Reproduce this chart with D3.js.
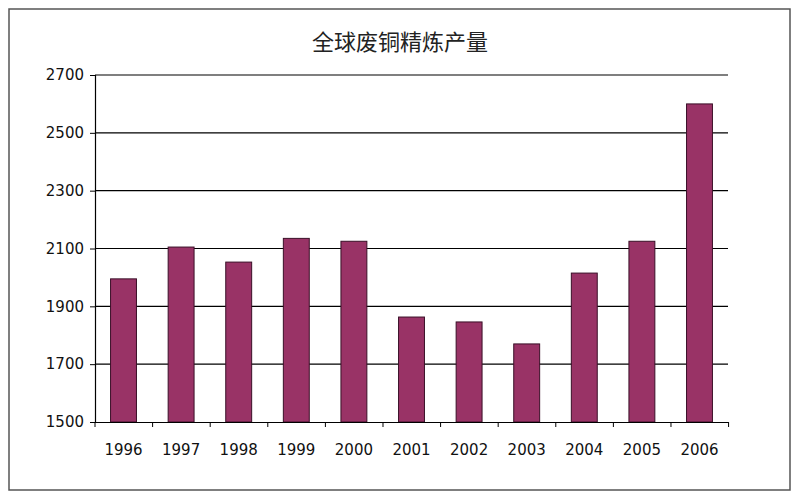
<!DOCTYPE html>
<html><head><meta charset="utf-8">
<script src="https://cdn.jsdelivr.net/npm/d3@7"></script>
<style>body{margin:0;background:#fff}</style>
</head><body>
<div id="chart"></div>
<script>
const width = 800, height = 500;
const years = ['1996','1997','1998','1999','2000','2001','2002','2003','2004','2005','2006'];
const output = [1995,2105,2053,2135,2125,1863,1846,1770,2015,2125,2600];
const yTicks = [1500,1700,1900,2100,2300,2500,2700];

const margin = {top: 75, right: 72, bottom: 78, left: 95};

const svg = d3.select('#chart').append('svg')
  .attr('width', width).attr('height', height);

//outer frame
svg.append('rect').attr('x', 9).attr('y', 9).attr('width', 781).attr('height', 481)
  .attr('fill', 'none').attr('stroke', '#555').attr('stroke-width', 1.5);

svg.append('text').attr('x', 400).attr('y', 50).attr('text-anchor', 'middle')
  .attr('font-family', 'Noto Sans CJK SC').attr('font-size', 22).attr('fill', '#222')
  .text('全球废铜精炼产量');

const x = d3.scaleBand().domain(years)
  .range([margin.left, width - margin.right]).paddingInner(0.55).paddingOuter(0.27);
const y = d3.scaleLinear().domain([1500, 2700])
  .range([height - margin.bottom, margin.top]);

//grid
svg.append('g').selectAll('line').data(yTicks.slice(1)).join('line')
  .attr('x1', margin.left).attr('x2', width - margin.right)
  .attr('y1', d => y(d)).attr('y2', d => y(d))
  .attr('stroke', '#000').attr('stroke-width', 1.2);

svg.append('g').selectAll('rect').data(output).join('rect')
  .attr('x', (d, i) => x(years[i])).attr('width', x.bandwidth())
  .attr('y', d => y(d)).attr('height', d => y(1500) - y(d))
  .attr('fill', '#993366').attr('stroke', '#3a1028').attr('stroke-width', 1);

const yAxis = svg.append('g').attr('transform', 'translate(' + margin.left + ',0)')
  .call(d3.axisLeft(y).tickValues(yTicks).tickFormat(d3.format('d')).tickSize(5).tickPadding(6));
const xAxis = svg.append('g').attr('transform', 'translate(0,' + y(1500) + ')')
  .call(d3.axisBottom(x).tickSize(0).tickPadding(22));
// tick marks between categories
svg.append('g').selectAll('line').data(d3.range(years.length + 1)).join('line')
  .attr('x1', i => margin.left + i * x.step()).attr('x2', i => margin.left + i * x.step())
  .attr('y1', y(1500)).attr('y2', y(1500) + 5).attr('stroke', '#000');

[yAxis, xAxis].forEach(a => {
  a.selectAll('text').attr('font-family', 'DejaVu Sans').attr('font-size', 15).attr('fill', '#111');
  a.select('.domain').attr('stroke', '#000').attr('stroke-width', 1.2);
});
</script>
</body></html>
